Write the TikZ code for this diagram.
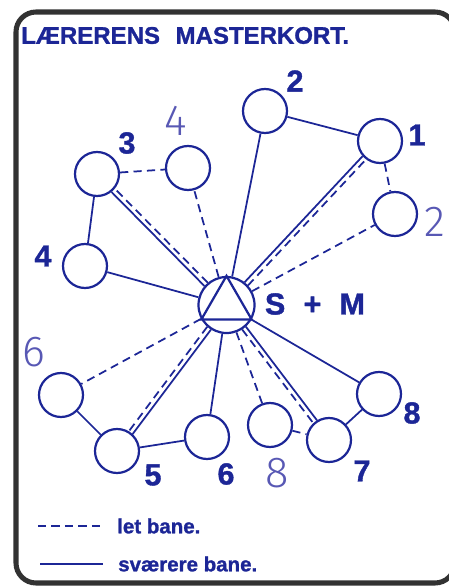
\documentclass[tikz,border=0pt]{standalone}
\usepackage{fontspec}
\setmainfont{Liberation Sans}
\newfontfamily\heavyfont{Liberation Sans Bold}[FakeBold=1.2]
\newfontfamily\handfont{Fira Sans Light}
\usetikzlibrary{calc}
\definecolor{ink}{RGB}{28,38,150}
\definecolor{pale}{RGB}{88,88,180}
\definecolor{frame}{RGB}{50,50,50}
% solid and dashed route side by side
\newcommand{\bothways}[2]{%
  \draw[hard, shorten <=0.87cm, shorten >=0.69cm] ($(#1.center)!0.07cm!90:(#2.center)$) -- ($(#2.center)!0.07cm!-90:(#1.center)$);
  \draw[easy, shorten <=0.87cm, shorten >=0.69cm] ($(#1.center)!0.07cm!-90:(#2.center)$) -- ($(#2.center)!0.07cm!90:(#1.center)$);}

\begin{document}
\begin{tikzpicture}[x=0.03cm, y=-0.03cm,
  post/.style={circle, draw=ink, line width=1.9pt, minimum size=1.32cm, inner sep=0pt},
  hard/.style={draw=ink, line width=1.5pt},
  easy/.style={draw=ink, line width=1.5pt, dash pattern=on 7pt off 4.5pt},
  num/.style={text=ink, inner sep=0pt, font=\heavyfont\fontsize{26}{26}\selectfont},
  hand/.style={text=pale, inner sep=0pt, font=\handfont\fontsize{37}{37}\selectfont},
  key/.style={anchor=west, text=ink, inner sep=0pt, font=\heavyfont\fontsize{17.5}{17.5}\selectfont}
]
\useasboundingbox (0,0) rectangle (449,587);
\draw[frame, line width=4.3pt, rounded corners=0.6cm] (16,12) rectangle (455,583);
\node[anchor=west, text=ink, inner sep=0pt, font=\heavyfont\fontsize{20.5}{20.5}\selectfont] (title) at (21,35.5) {LÆRERENS\hspace{.65em}MASTERKORT.};

% posts
\node[post, minimum size=1.68cm] (sm) at (226.5,305) {};
\draw[ink, line width=1.9pt] (sm.90) -- (sm.210) -- (sm.330) -- cycle;
\node[post] (n2) at (265,111) {};
\node[post] (n1) at (380,141) {};
\node[post] (x2) at (395,214) {};
\node[post] (n3) at (97,174) {};
\node[post] (x4) at (188,168) {};
\node[post] (n4) at (85,266) {};
\node[post] (x6) at (61,395) {};
\node[post] (n5) at (117,451) {};
\node[post] (n6) at (207,437) {};
\node[post] (x8) at (270,425) {};
\node[post] (n7) at (329,440) {};
\node[post] (n8) at (379,394) {};

% numbers
\node[num] (start) at (315,304) {S\hspace{.6em}+\hspace{.6em}M};
\node[num] (l2) at (295,81) {2};
\node[num] (l1) at (417,135) {1};
\node[num] (l3) at (127,143) {3};
\node[num] (l4) at (43,256) {4};
\node[num] (l5) at (153,475) {5};
\node[num] (l6) at (226,474) {6};
\node[num] (l7) at (362,471) {7};
\node[num] (l8) at (412,413) {8};
\node[hand] (h2) at (435,222) {2};
\node[hand] (h4) at (176,121) {4};
\node[hand] (h6) at (34,352) {6};
\node[hand] (h8) at (277,473) {8};

% routes
\draw[hard] (sm) -- (n2);
\draw[hard] (n2) -- (n1);
\bothways{sm}{n1}
\draw[easy] (n1) -- (x2);
\draw[easy] (sm) -- (x2);
\draw[easy] (sm) -- (x4);
\draw[easy] (n3) -- (x4);
\bothways{sm}{n3}
\draw[hard] (n3) -- (n4);
\draw[hard] (sm) -- (n4);
\draw[easy] (sm) -- (x6);
\draw[hard] (x6) -- (n5);
\bothways{sm}{n5}
\draw[hard] (n5) -- (n6);
\draw[hard] (sm) -- (n6);
\draw[easy] (sm) -- (x8);
\draw[easy] (x8) -- (n7);
\bothways{sm}{n7}
\draw[hard] (n7) -- (n8);
\draw[hard] (sm) -- (n8);

% legend
\coordinate (ea) at (38,526);
\coordinate (eb) at (102,526);
\coordinate (ha) at (40,564);
\coordinate (hb) at (103,564);
\draw[easy, line width=1.8pt] (ea) -- (eb);
\draw[hard, line width=1.8pt] (ha) -- (hb);
\node[key] (keyeasy) at (117,526) {let bane.};
\node[key] (keyhard) at (118,564) {sværere bane.};
\end{tikzpicture}
\end{document}
